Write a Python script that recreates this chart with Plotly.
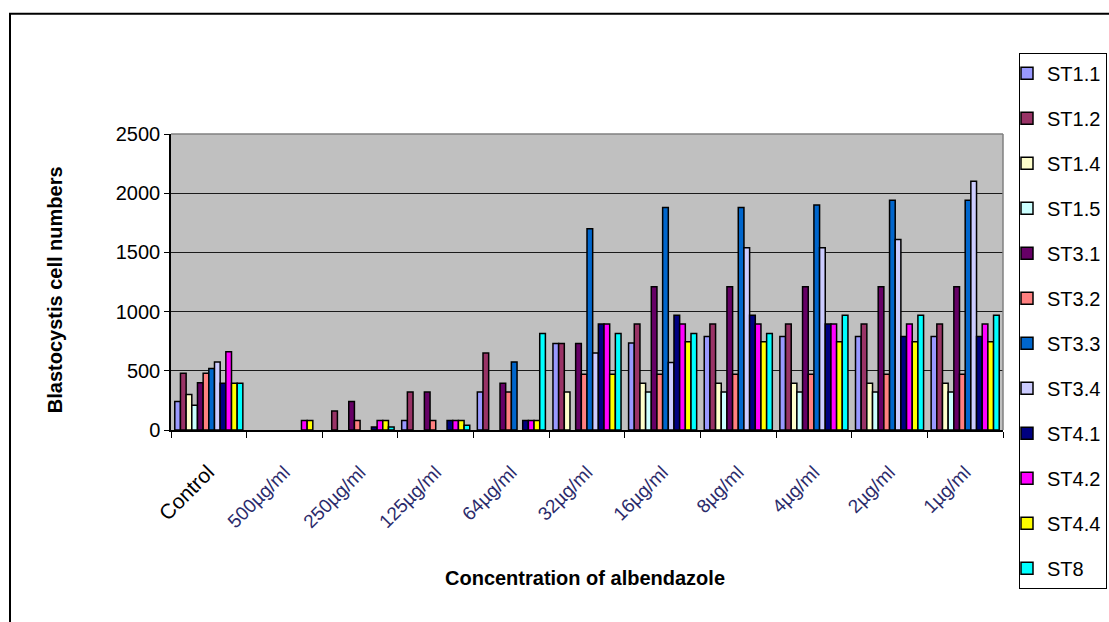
import plotly.graph_objects as go

# Concentrations of albendazole tested (x categories)
categories = ["Control", "500µg/ml", "250µg/ml", "125µg/ml", "64µg/ml", "32µg/ml",
              "16µg/ml", "8µg/ml", "4µg/ml", "2µg/ml", "1µg/ml"]

# Blastocystis cell counts per subtype isolate
st1_1 = [240, 0, 0, 80, 320, 730, 735, 790, 790, 790, 790]
st1_2 = [480, 0, 160, 320, 650, 730, 895, 895, 895, 895, 895]
st1_4 = [300, 0, 0, 0, 0, 320, 395, 395, 395, 395, 395]
st1_5 = [210, 0, 0, 0, 0, 0, 320, 320, 320, 320, 320]
st3_1 = [400, 0, 240, 320, 395, 730, 1210, 1210, 1210, 1210, 1210]
st3_2 = [480, 0, 80, 80, 320, 470, 470, 470, 470, 470, 470]
st3_3 = [520, 0, 0, 0, 575, 1700, 1880, 1880, 1900, 1940, 1940]
st3_4 = [575, 0, 0, 0, 0, 650, 570, 1540, 1540, 1610, 2100]
st4_1 = [395, 0, 25, 80, 80, 895, 970, 970, 895, 790, 790]
st4_2 = [660, 80, 80, 80, 80, 895, 895, 895, 895, 895, 895]
st4_4 = [395, 80, 80, 80, 80, 470, 745, 745, 745, 745, 745]
st8 = [395, 0, 25, 40, 815, 815, 815, 815, 970, 970, 970]

series_names = ["ST1.1", "ST1.2", "ST1.4", "ST1.5", "ST3.1", "ST3.2",
                "ST3.3", "ST3.4", "ST4.1", "ST4.2", "ST4.4", "ST8"]
series_values = [st1_1, st1_2, st1_4, st1_5, st3_1, st3_2,
                 st3_3, st3_4, st4_1, st4_2, st4_4, st8]
series_colors = ["#9999FF", "#993366", "#FFFFCC", "#CCFFFF", "#660066", "#FF8080",
                 "#0066CC", "#CCCCFF", "#000080", "#FF00FF", "#FFFF00", "#00FFFF"]

y_ticks = [0, 500, 1000, 1500, 2000, 2500]

W, H = 1109, 622
L, R, T, B = 171, 1003, 133.5, 430  # plot area in pixels


def px_x(x):
    return (x - L) / (R - L)


def px_y(y):
    return (B - y) / (B - T)


fig = go.Figure()
for name, vals, col in zip(series_names, series_values, series_colors):
    fig.add_trace(go.Bar(
        name=name,
        x=categories,
        y=[v if v else None for v in vals],
        marker=dict(color=col, line=dict(color="black", width=1.5)),
        legendgroup=name,
    ))

tick_text = ['<span style="color:black;font-size:21px">Control</span>'] + categories[1:]

fig.update_layout(
    width=W, height=H,
    margin=dict(l=L, r=W - R, t=T, b=H - B, pad=0, autoexpand=False),
    paper_bgcolor="white",
    plot_bgcolor="#C0C0C0",
    barmode="group",
    bargap=0.1,
    bargroupgap=0,
    font=dict(family="Arial, Liberation Sans", color="black"),
    showlegend=True,
    legend=dict(
        x=px_x(1019), y=px_y(52), xanchor="left", yanchor="top",
        bgcolor="white", bordercolor="black", borderwidth=1,
        font=dict(size=20, color="black"),
        tracegroupgap=16, itemwidth=30, maxheight=600, indentation=-13,
    ),
    xaxis=dict(
        type="category",
        tickmode="array", tickvals=categories, ticktext=tick_text,
        tickangle=-45,
        tickfont=dict(size=19, color="#2b2b6b"),
        ticks="outside", ticklen=6, tickcolor="black", tickson="boundaries",
        ticklabelstandoff=22,
        showline=True, linecolor="black", linewidth=1.5,
        showgrid=False, zeroline=False,
    ),
    yaxis=dict(
        range=[0, 2500], tickmode="array", tickvals=y_ticks,
        tickfont=dict(size=20, color="black"),
        ticks="outside", ticklen=5, tickcolor="black",
        showline=True, linecolor="black", linewidth=1.5,
        showgrid=True, gridcolor="#1a1a1a", gridwidth=1,
        zeroline=False,
    ),
    annotations=[
        dict(text="<b>Blastocystis cell numbers</b>", textangle=-90,
             x=px_x(55), y=px_y(290), xref="paper", yref="paper",
             xanchor="center", yanchor="middle",
             showarrow=False, font=dict(size=20, color="black")),
        dict(text="<b>Concentration of albendazole</b>",
             x=px_x(585), y=px_y(578), xref="paper", yref="paper",
             xanchor="center", yanchor="middle",
             showarrow=False, font=dict(size=20, color="black")),
    ],
    shapes=[
        # plot-area frame (top and right edges)
        dict(type="line", xref="paper", yref="paper", x0=0, x1=1, y0=1, y1=1,
             line=dict(color="#808080", width=1.5), layer="above"),
        dict(type="line", xref="paper", yref="paper", x0=1, x1=1, y0=0, y1=1,
             line=dict(color="#808080", width=1.5), layer="above"),
        # chart-area border
        dict(type="rect", xref="paper", yref="paper",
             x0=px_x(10), x1=px_x(1130), y0=px_y(650), y1=px_y(13),
             line=dict(color="black", width=2), fillcolor="rgba(0,0,0,0)",
             layer="above"),
    ],
)

fig.write_html("out.html")
